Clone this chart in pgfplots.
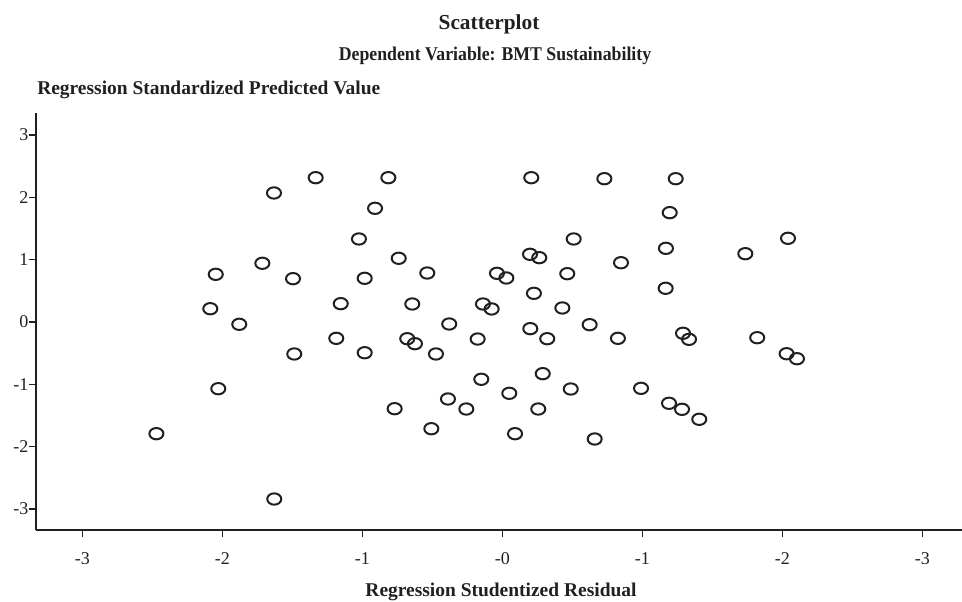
\documentclass[border=0pt]{standalone}
\usepackage{fontspec}
\setmainfont{Liberation Serif}
\usepackage{graphicx}
\usepackage{pgfplots}
\pgfplotsset{compat=1.18}
\definecolor{ink}{RGB}{35,31,32}
\pgfplotstableread{
x y
-2.471 -1.792
-2.086 0.213
-2.047 0.765
-2.029 -1.070
-1.879 -0.037
-1.714 0.942
-1.631 2.070
-1.629 -2.840
-1.495 0.695
-1.486 -0.513
-1.333 2.315
-1.186 -0.262
-1.154 0.294
-1.024 1.332
-0.983 0.701
-0.983 -0.493
-0.909 1.824
-0.814 2.315
-0.769 -1.391
-0.740 1.022
-0.679 -0.268
-0.643 0.289
-0.624 -0.348
-0.536 0.786
-0.507 -1.712
-0.474 -0.513
-0.388 -1.235
-0.379 -0.032
-0.257 -1.396
-0.176 -0.273
-0.150 -0.919
-0.138 0.289
-0.076 0.209
-0.038 0.781
0.029 0.706
0.050 -1.144
0.091 -1.792
0.198 1.086
0.200 -0.107
0.207 2.315
0.226 0.460
0.257 -1.396
0.264 1.032
0.289 -0.829
0.321 -0.268
0.429 0.225
0.464 0.775
0.489 -1.075
0.510 1.332
0.624 -0.043
0.660 -1.877
0.729 2.299
0.826 -0.262
0.848 0.951
0.991 -1.064
1.167 0.541
1.169 1.182
1.196 1.754
1.191 -1.304
1.239 2.299
1.284 -1.401
1.291 -0.181
1.334 -0.278
1.407 -1.561
1.736 1.096
1.821 -0.252
2.031 -0.509
2.105 -0.589
2.041 1.343
}\pts
\begin{document}
\begin{tikzpicture}
\useasboundingbox (-27pt,-54pt) rectangle (694.5pt,397.5pt);
\begin{axis}[
  at={(0,0)}, anchor=south west,
  scale only axis, width=694.5pt, height=312.75pt,
  xmin=-3.331, xmax=3.284, ymin=-3.337, ymax=3.353,
  axis x line*=bottom, axis y line*=left,
  axis line style={ink, line width=0.9pt, -},
  xtick={-3,-2,-1,0,1,2,3}, ytick={-3,-2,-1,0,1,2,3},
  xticklabels={-3,-2,-1,-0,-1,-2,-3},
  yticklabels={-3,-2,-1,0,1,2,3},
  tick align=outside, major tick length=5.25pt,
  tick style={ink, line width=0.9pt},
  ticklabel style={font=\fontsize{13.5}{15}\selectfont, text=ink},
  xticklabel style={anchor=base, inner sep=0pt},
  xticklabel shift=20.45pt,
  yticklabel style={anchor=east, inner sep=0pt},
  yticklabel shift=0.3pt,
  clip=false,
]
\addplot[only marks, mark=o, mark size=4.25pt,
  mark options={xscale=1.24, line width=1.5pt, draw=ink}] table[x=x, y=y] {\pts};
\end{axis}
\begin{scope}[shift={(-27pt,397.5pt)}, x=0.75pt, y=-0.75pt]
\node[anchor=base, inner sep=0pt, text=ink, font=\bfseries\fontsize{16}{18}\selectfont] at (489,30) {Scatterplot};
\node[anchor=base, inner sep=0pt, text=ink, font=\bfseries\fontsize{14.6}{17}\selectfont] at (495,61) {\scalebox{0.913}[1]{Dependent Variable: BMT Sustainability}};
\node[anchor=base west, inner sep=0pt, text=ink, font=\bfseries\fontsize{14.6}{17}\selectfont] at (37,94.3) {Regression Standardized Predicted Value};
\node[anchor=base, inner sep=0pt, text=ink, font=\bfseries\fontsize{14.6}{17}\selectfont] at (501,596.7) {Regression Studentized Residual};
\end{scope}
\end{tikzpicture}
\end{document}
